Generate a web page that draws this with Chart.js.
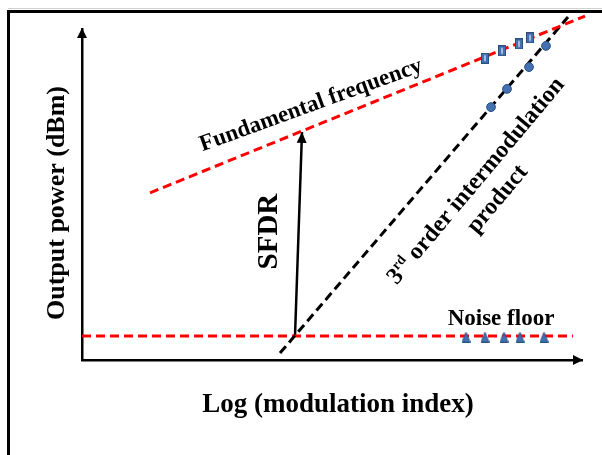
<!DOCTYPE html>
<html>
<head>
<meta charset="utf-8">
<script src="https://cdn.jsdelivr.net/npm/chart.js@4.4.1/dist/chart.umd.min.js"></script>
<style>
  html, body { margin: 0; padding: 0; background: #fff; }
  #wrap { position: relative; width: 602px; height: 455px; }
</style>
</head>
<body>
<div id="wrap"><canvas id="chart"></canvas></div>
<script>
// schematic only: x = log(modulation index), y = output power, arbitrary units 0..10
const fundamentalX = [1.36, 10.06];
const fundamentalY = [5.05, 10.39];
const imdX = [3.96, 9.72];
const imdY = [0.21, 10.36];
const noiseX = [0, 9.82];
const noiseY = [0.725, 0.725];
const sfdrX = [4.26, 4.40];
const sfdrY = [0.725, 6.89];

const fundPointsX = [8.06, 8.40, 8.74, 8.96];
const fundPointsY = [9.12, 9.34, 9.55, 9.73];
const imdPointsX = [8.18, 8.50, 8.94, 9.28];
const imdPointsY = [7.64, 8.19, 8.85, 9.49];
const noisePointsX = [7.68, 8.06, 8.44, 8.76, 9.24];
const noisePointsY = [0.69, 0.69, 0.69, 0.69, 0.69];

const pts = (xs, ys) => xs.map((x, i) => ({ x, y: ys[i] }));

const FONT = '"Liberation Serif", "Times New Roman", serif';
const MARK = '#4270b0';
const MARK_EDGE = '#2c4f80';

// small upright rectangle marker (measured fundamental points)
const rectMark = document.createElement('canvas');
rectMark.width = 8;
rectMark.height = 11;
const rc = rectMark.getContext('2d');
rc.fillStyle = MARK;
rc.fillRect(0.5, 0.5, 7, 10);
rc.strokeStyle = MARK_EDGE;
rc.lineWidth = 1;
rc.strokeRect(0.5, 0.5, 7, 10);
rc.fillStyle = '#a9bde0';
rc.fillRect(3, 2.5, 2, 6);

// triangle marker (noise floor points)
const triMark = document.createElement('canvas');
triMark.width = 9;
triMark.height = 11;
const tc = triMark.getContext('2d');
tc.beginPath();
tc.moveTo(4.5, 0.5);
tc.lineTo(8.5, 10.5);
tc.lineTo(0.5, 10.5);
tc.closePath();
tc.fillStyle = MARK;
tc.fill();
tc.strokeStyle = MARK_EDGE;
tc.lineWidth = 1;
tc.stroke();

function label(ctx, text, x, y, deg, size) {
    ctx.save();
    ctx.translate(x, y);
    ctx.rotate(deg * Math.PI / 180);
    ctx.font = `bold ${size}px ${FONT}`;
    ctx.textAlign = 'center';
    ctx.textBaseline = 'alphabetic';
    ctx.fillStyle = '#000';
    ctx.fillText(text, 0, 0);
    ctx.restore();
}

function arrowHead(ctx, tipX, tipY, angle, len, half) {
    ctx.save();
    ctx.translate(tipX, tipY);
    ctx.rotate(angle);
    ctx.beginPath();
    ctx.moveTo(0, 0);
    ctx.lineTo(-len, -half);
    ctx.lineTo(-len, half);
    ctx.closePath();
    ctx.fillStyle = '#000';
    ctx.fill();
    ctx.restore();
}

const overlay = {
    id: 'overlay',
    beforeDraw(chart) {
        const { ctx } = chart;
        ctx.save();
        ctx.strokeStyle = '#d0d0d0';
        ctx.lineWidth = 1;
        ctx.beginPath();
        ctx.moveTo(8, 8.5);
        ctx.lineTo(602, 8.5);
        ctx.stroke();
        ctx.strokeStyle = '#000';
        ctx.lineWidth = 3;
        ctx.beginPath();
        ctx.moveTo(8.5, 455);
        ctx.lineTo(8.5, 11.5);
        ctx.lineTo(602, 11.5);
        ctx.stroke();
        ctx.restore();
    },
    afterDraw(chart) {
        const { ctx, chartArea: a } = chart;
        const xs = chart.scales.x;
        const ys = chart.scales.y;
        const px = v => xs.getPixelForValue(v);
        const py = v => ys.getPixelForValue(v);

        // axis arrows
        arrowHead(ctx, a.left, a.top - 1, -Math.PI / 2, 10, 5);
        arrowHead(ctx, a.right + 1, a.bottom, 0, 10, 5);

        // SFDR arrow head
        const m = chart.getDatasetMeta(3).data;
        const ang = Math.atan2(m[1].y - m[0].y, m[1].x - m[0].x);
        arrowHead(ctx, m[1].x, m[1].y, ang, 11, 5);

        // axis titles
        label(ctx, 'Output power (dBm)', a.left - 18, 203, -90, 26);
        label(ctx, 'Log (modulation index)', 338, 412, 0, 27);

        // annotations
        label(ctx, 'Fundamental frequency', px(4.62), py(7.52), -20, 23);
        label(ctx, 'SFDR', px(3.9), py(3.88), -90, 29);
        label(ctx, 'Noise floor', px(8.38), py(1.06), 0, 23);

        // 3rd order intermodulation product (two lines, with superscript)
        ctx.save();
        ctx.translate(px(7.98), py(5.28));
        ctx.rotate(-50 * Math.PI / 180);
        ctx.fillStyle = '#000';
        ctx.textBaseline = 'alphabetic';
        ctx.textAlign = 'left';
        const big = `bold 24px ${FONT}`;
        const small = `bold 14px ${FONT}`;
        ctx.font = big;
        const w3 = ctx.measureText('3').width;
        const wRest = ctx.measureText(' order intermodulation').width;
        ctx.font = small;
        const wSup = ctx.measureText('rd').width;
        const x0 = -(w3 + wSup + wRest) / 2;
        ctx.font = big;
        ctx.fillText('3', x0, 0);
        ctx.font = small;
        ctx.fillText('rd', x0 + w3, -9);
        ctx.font = big;
        ctx.fillText(' order intermodulation', x0 + w3 + wSup, 0);
        ctx.textAlign = 'center';
        ctx.fillText('product', 0, 28);
        ctx.restore();
    }
};

const dashed = (data, color) => ({
    data,
    showLine: true,
    borderColor: color,
    borderWidth: 3,
    borderDash: [9, 5],
    pointRadius: 0,
    clip: false
});

new Chart(document.getElementById('chart'), {
    type: 'scatter',
    data: {
        datasets: [
            dashed(pts(fundamentalX, fundamentalY), '#ff0000'),
            dashed(pts(imdX, imdY), '#000000'),
            dashed(pts(noiseX, noiseY), '#ff0000'),
            {
                data: pts(sfdrX, sfdrY),
                showLine: true,
                borderColor: '#000',
                borderWidth: 2.5,
                pointRadius: 0,
                clip: false
            },
            {
                data: pts(fundPointsX, fundPointsY),
                pointStyle: rectMark,
                order: -1,
                clip: false
            },
            {
                data: pts(imdPointsX, imdPointsY),
                pointStyle: 'circle',
                pointRadius: 4.4,
                backgroundColor: MARK,
                borderColor: MARK_EDGE,
                borderWidth: 1,
                order: -1,
                clip: false
            },
            {
                data: pts(noisePointsX, noisePointsY),
                pointStyle: triMark,
                order: -1,
                clip: false
            }
        ]
    },
    options: {
        responsive: true,
        maintainAspectRatio: false,
        animation: false,
        devicePixelRatio: 1,
        layout: { padding: { left: 82, top: 29, right: 20, bottom: 95 } },
        plugins: { legend: { display: false }, tooltip: { enabled: false } },
        scales: {
            x: {
                type: 'linear', min: 0, max: 10,
                grid: { display: false, drawTicks: false },
                ticks: { display: false },
                border: { display: true, color: '#000', width: 2.5 }
            },
            y: {
                type: 'linear', min: 0, max: 10,
                grid: { display: false, drawTicks: false },
                ticks: { display: false },
                border: { display: true, color: '#000', width: 2.5 }
            }
        }
    },
    plugins: [overlay]
});
</script>
</body>
</html>
